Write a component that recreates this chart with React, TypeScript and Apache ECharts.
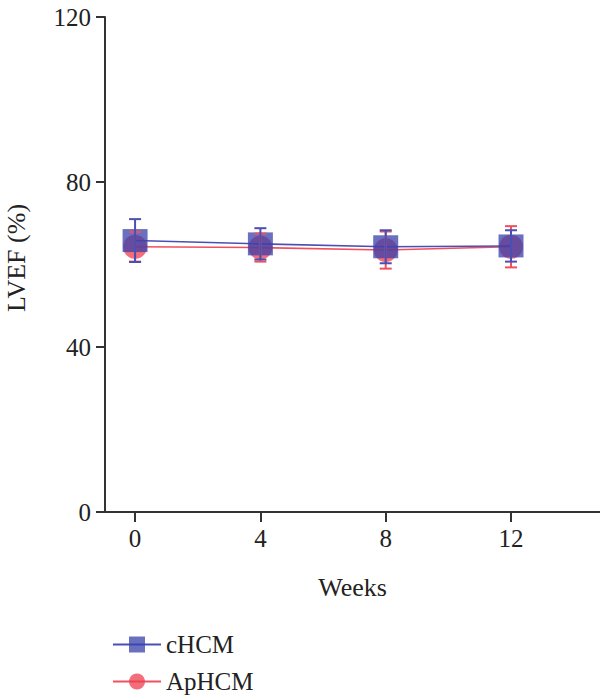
import React, { useEffect, useRef } from "react";
import * as echarts from "echarts";

// Weeks of follow-up
const weeks = [0, 4, 8, 12];
const xTicks = [0, 4, 8, 12];
const yTicks = [0, 40, 80, 120];

// LVEF (%) mean and SD for each group
const cHCMMean = [65.8, 65.0, 64.3, 64.5];
const cHCMSd = [5.2, 3.8, 4.0, 3.8];
const apHCMMean = [64.3, 64.1, 63.5, 64.3];
const apHCMSd = [3.6, 3.4, 4.5, 5.0];

const FONT = "'Liberation Serif', 'DejaVu Serif', serif";
const TEXT = "#222";
const BLUE_FILL = "rgba(56,64,171,0.75)";
const BLUE_LINE = "#4a4fb4";
const RED_FILL = "rgba(238,62,78,0.75)";
const RED_LINE = "#f0505e";

function errorSeries(name: string, mean: number[], sd: number[], color: string, z: number) {
  return {
    type: "custom",
    name: name + "-err",
    z,
    silent: true,
    data: weeks.map((w, i) => [w, mean[i] - sd[i], mean[i] + sd[i]]),
    renderItem: (_params: any, api: any) => {
      const x = api.value(0);
      const lo = api.coord([x, api.value(1)]);
      const hi = api.coord([x, api.value(2)]);
      const half = 6;
      const style = { stroke: color, lineWidth: 2 };
      return {
        type: "group",
        children: [
          { type: "line", shape: { x1: lo[0], y1: lo[1], x2: hi[0], y2: hi[1] }, style },
          { type: "line", shape: { x1: lo[0] - half, y1: lo[1], x2: lo[0] + half, y2: lo[1] }, style },
          { type: "line", shape: { x1: hi[0] - half, y1: hi[1], x2: hi[0] + half, y2: hi[1] }, style },
        ],
      };
    },
  };
}

function legendFor(name: string, top: number) {
  return {
    orient: "vertical",
    left: 107,
    top,
    itemWidth: 48,
    itemHeight: 20,
    data: [name],
    textStyle: { fontSize: 25, color: TEXT, fontFamily: FONT },
  };
}

export default function App() {
  const ref = useRef<HTMLDivElement>(null);

  useEffect(() => {
    if (!ref.current) return;
    const chart = echarts.init(ref.current, null, { renderer: "svg" });
    chart.setOption({
      animation: false,
      textStyle: { fontFamily: FONT },
      grid: { left: 105, right: 0, top: 17, height: 495, outerBoundsMode: "none" },
      graphic: [
        {
          type: "text",
          x: 16,
          y: 258,
          rotation: Math.PI / 2,
          style: {
            text: "LVEF (%)",
            fontSize: 26,
            fontFamily: FONT,
            fill: TEXT,
            align: "center",
            verticalAlign: "middle",
          },
        },
      ],
      xAxis: {
        type: "value",
        min: -0.96,
        max: 14.84,
        name: "Weeks",
        nameLocation: "middle",
        nameGap: 62,
        nameTextStyle: { fontSize: 26, color: TEXT, fontFamily: FONT },
        axisLine: { show: true, onZero: false, lineStyle: { color: "#333", width: 2 } },
        axisTick: { show: true, length: 10, customValues: xTicks, lineStyle: { color: "#333", width: 2 } },
        axisLabel: { customValues: xTicks, fontSize: 25, color: TEXT, margin: 14, fontFamily: FONT },
        splitLine: { show: false },
      },
      yAxis: {
        type: "value",
        min: 0,
        max: 120,
        interval: 40,
        axisLine: { show: true, onZero: false, lineStyle: { color: "#333", width: 2 } },
        axisTick: { show: true, length: 9, lineStyle: { color: "#333", width: 2 } },
        axisLabel: { fontSize: 25, color: TEXT, margin: 14, fontFamily: FONT, customValues: yTicks },
        splitLine: { show: false },
      },
      legend: [legendFor("cHCM", 627), legendFor("ApHCM", 664)],
      series: [
        {
          type: "line",
          name: "ApHCM",
          z: 2,
          data: weeks.map((w, i) => [w, apHCMMean[i]]),
          symbol: "circle",
          symbolSize: 24,
          lineStyle: { color: RED_LINE, width: 1.6 },
          itemStyle: { color: RED_FILL, borderWidth: 0 },
        },
        {
          type: "line",
          name: "cHCM",
          z: 3,
          data: weeks.map((w, i) => [w, cHCMMean[i]]),
          symbol: "rect",
          symbolSize: [25, 23],
          lineStyle: { color: BLUE_LINE, width: 1.6 },
          itemStyle: { color: BLUE_FILL, borderWidth: 0 },
        },
        errorSeries("ApHCM", apHCMMean, apHCMSd, RED_LINE, 4),
        errorSeries("cHCM", cHCMMean, cHCMSd, BLUE_LINE, 5),
      ],
    });
    return () => chart.dispose();
  }, []);

  return (
    <div
      ref={ref}
      style={{ position: "fixed", left: 0, top: 0, width: 600, height: 700, background: "#fff" }}
    />
  );
}
